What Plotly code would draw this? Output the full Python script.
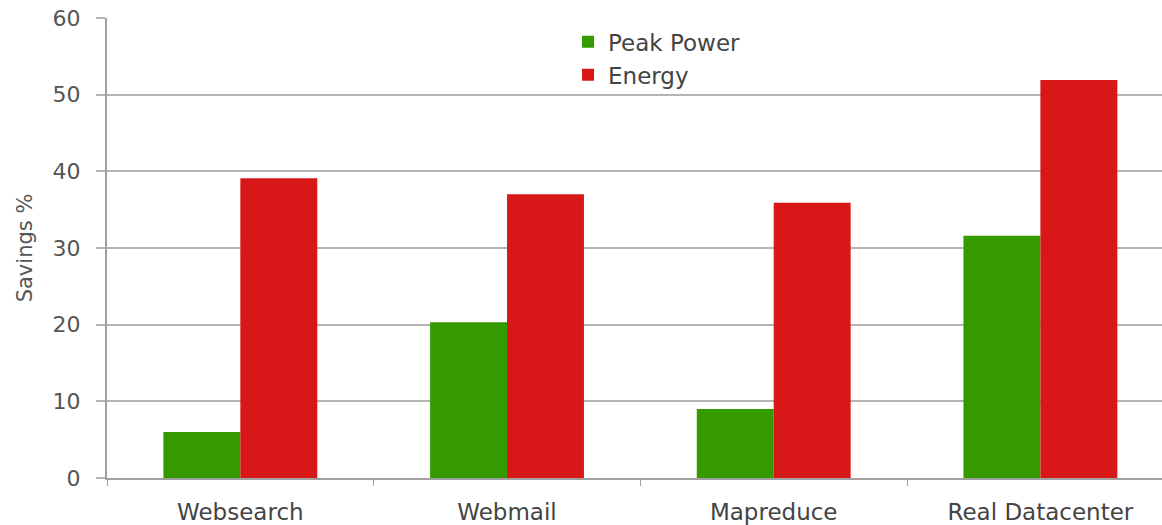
import plotly.graph_objects as go

# Workloads and measured savings (%)
categories = ["Websearch", "Webmail", "Mapreduce", "Real Datacenter"]
peak_power = [6.0, 20.3, 9.0, 31.6]
energy = [39.1, 37.0, 35.9, 51.9]
y_ticks = [0, 10, 20, 30, 40, 50, 60]

FONT = "DejaVu Sans"
TEXT = "#555555"
GRID = "#b4b4b4"

fig = go.Figure()
fig.add_trace(go.Bar(name="Peak Power", x=categories, y=peak_power,
                     marker=dict(color="#349a00", line=dict(width=0))))
fig.add_trace(go.Bar(name="Energy", x=categories, y=energy,
                     marker=dict(color="#d81818", line=dict(width=0))))

fig.update_layout(
    width=1162, height=525,
    margin=dict(l=107, r=0, t=18, b=47),
    paper_bgcolor="white", plot_bgcolor="white",
    barmode="group", bargap=0.423, bargroupgap=0,
    font=dict(family=FONT, color=TEXT),
    showlegend=True,
    legend=dict(x=0.437, y=0.995, xanchor="left", yanchor="top",
                bgcolor="rgba(0,0,0,0)", font=dict(size=23, color="#444444"),
                tracegroupgap=0, itemwidth=30),
    xaxis=dict(range=[-0.5, 3.456], showline=True, linecolor="#a0a0a0", linewidth=2,
               ticks="outside", tickson="boundaries", ticklen=6, tickcolor="#a0a0a0",
               tickfont=dict(size=23, color="#444444"), showgrid=False,
               ticklabelstandoff=12),
    yaxis=dict(range=[0, 60], tickvals=y_ticks, showline=True, linecolor="#a0a0a0",
               linewidth=2, ticks="outside", ticklen=9, tickcolor=GRID, tickwidth=2,
               showgrid=True, gridcolor=GRID, gridwidth=2, zeroline=False,
               tickfont=dict(size=22, color=TEXT), ticklabelstandoff=11,
               title=dict(text="Savings %", font=dict(size=21, color=TEXT), standoff=14)),
)

fig.write_html("out.html")
